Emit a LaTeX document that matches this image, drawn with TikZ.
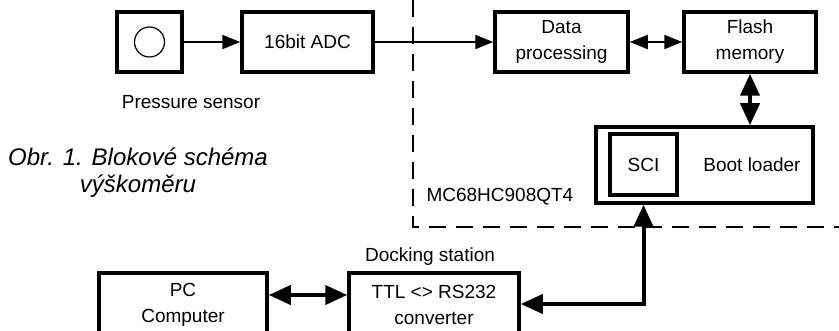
\documentclass[tikz,border=0pt]{standalone}
\usepackage{fontspec}
\setmainfont{Liberation Sans}
\usetikzlibrary{arrows.meta}
\begin{document}
\begin{tikzpicture}[x=1pt, y=-1pt,
    every node/.style={font=\fontsize{19}{26}\selectfont},
    block/.style={draw, line width=3.5pt, minimum width=#1, minimum height=60pt, align=center, inner sep=0pt},
    sig/.style={line width=2pt, -{Triangle[length=18pt,width=14pt]}},
    sigboth/.style={line width=2pt, {Triangle[length=18pt,width=14pt]}-{Triangle[length=18pt,width=14pt]}},
    bus/.style={line width=4pt, {Triangle[length=22pt,width=19pt]}-{Triangle[length=22pt,width=19pt]}},
    border/.style={line width=2pt, dash pattern=on 17pt off 10pt}]
  \useasboundingbox (0,0) rectangle (839,331);
  \clip (0,0) rectangle (839,331);

  \node[block=65] (sensor) at (149.5,42) {};
  \node[draw, circle, line width=1.2pt, minimum size=30pt] (dial) at (sensor) {};
  \node (sensorlabel) at (191,102) {Pressure sensor};
  \node[block=131] (adc) at (307.5,42) {16bit ADC};
  \node[block=133] (proc) at (561.5,42) {Data\\processing};
  \node[block=132] (flash) at (750,42) {Flash\\memory};
  \node[block=217, minimum height=76pt] (boot) at (704.5,165) {};
  \node[block=67, minimum height=61pt] (sci) at (643.5,164.5) {SCI};
  \node (bootlabel) at (752,165) {Boot loader};
  \node[anchor=west] (mcu) at (423,197) {MC68HC908QT4};
  \node[font=\itshape\fontsize{24}{27}\selectfont, align=center] (caption) at (138,173) {Obr. 1. Blokové schéma\\výškoměru};

  \node[block=168, minimum height=64pt] (pc) at (183,305) {PC\\Computer};
  \node[block=170, minimum height=64pt] (ttl) at (434,305) {TTL <> RS232\\converter};
  \node (dock) at (430,257) {Docking station};

  \coordinate (mcutop) at (413,0);
  \coordinate (mcucorner) at (413,227);
  \coordinate (mcuright) at (839,227);
  \draw[border] (mcutop) -- (mcucorner) -- (mcuright);

  \draw[sig] (sensor.east) -- (adc.west);
  \draw[sig] (adc.east) -- (proc.west);
  \draw[sigboth] (proc.east) -- (flash.west);
  \draw[bus] (flash.south) -- (flash.south |- boot.north);
  \coordinate (scibus) at (643.5,304);
  \draw[bus] (sci.south |- boot.south) -- (scibus) -- (ttl.east |- scibus);
  \draw[bus] ([yshift=10pt]pc.east) -- ([yshift=10pt]ttl.west);
\end{tikzpicture}
\end{document}
